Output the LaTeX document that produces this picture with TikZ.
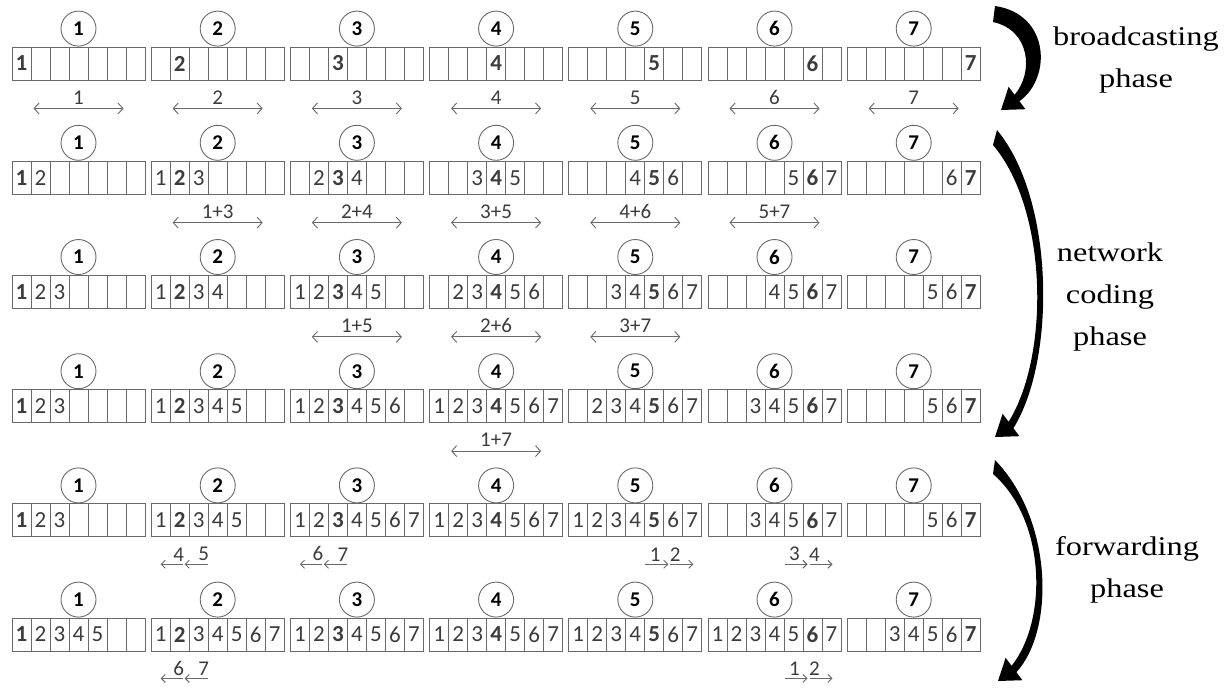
\documentclass[tikz,border=0pt]{standalone}
\usepackage{fontspec}
\setmainfont{Carlito}
\newfontfamily\phasefont[FakeStretch=1.2]{Liberation Serif}
\usetikzlibrary{arrows.meta,positioning}

\definecolor{boxgray}{RGB}{105,105,105}
\definecolor{txtgray}{RGB}{60,60,60}

\tikzset{
  cell/.style={draw=boxgray,line width=0.9pt,minimum width=19pt,minimum height=33pt,
    inner sep=0pt,text=txtgray,font=\fontsize{23}{23}\selectfont},
  nodecirc/.style={circle,draw=boxgray,line width=0.9pt,minimum size=35pt,inner sep=0pt,
    font=\fontsize{21}{21}\selectfont\bfseries},
  pair/.style={draw=boxgray,line width=0.9pt,
    {Straight Barb[length=5pt,width=11pt]}-{Straight Barb[length=5pt,width=11pt]}},
  fwd/.style={draw=boxgray,line width=0.9pt,-{Straight Barb[length=4pt,width=8pt]}},
  plab/.style={inner sep=0pt,text=txtgray,font=\fontsize{21}{21}\selectfont},
  phase/.style={align=center,font=\phasefont\fontsize{27}{42}\selectfont},
}

\begin{document}
\begin{tikzpicture}[x=1pt,y=-1pt]
\useasboundingbox (0,0) rectangle (1231,691);

% buffers of the seven nodes, one line per step
\foreach \r/\spec in {
  1/{1/1/1,2/2/2,3/3/3,4/4/4,5/5/5,6/6/6,7/7/7},
  2/{1/1/2,2/1/3,3/2/4,4/3/5,5/4/6,6/5/7,7/6/7},
  3/{1/1/3,2/1/4,3/1/5,4/2/6,5/3/7,6/4/7,7/5/7},
  4/{1/1/3,2/1/5,3/1/6,4/1/7,5/2/7,6/3/7,7/5/7},
  5/{1/1/3,2/1/5,3/1/7,4/1/7,5/1/7,6/3/7,7/5/7},
  6/{1/1/5,2/1/7,3/1/7,4/1/7,5/1/7,6/1/7,7/3/7}}
{
\pgfmathsetmacro\ytop{47+(\r-1)*114.2}
\foreach \g/\lo/\hi in \spec
{
\foreach \k in {1,...,7}
{
\ifnum\k<\lo\relax \def\txt{}%
\else\ifnum\k>\hi\relax \def\txt{}%
\else\ifnum\k=\g\relax \def\txt{\textbf{\k}}%
\else \def\txt{\k}\fi\fi\fi
\node[cell] (c\r-\g-\k) at ({12+(\g-1)*139.2+(\k-0.5)*19},{\ytop+16.5}) {\txt};
}
\node[nodecirc, above=0pt of c\r-\g-4] (n\r-\g) {\g};
}
}

% broadcasts and coded packets
\foreach \r/\g/\lab in {1/1/1,1/2/2,1/3/3,1/4/4,1/5/5,1/6/6,1/7/7,
  2/2/{1+3},2/3/{2+4},2/4/{3+5},2/5/{4+6},2/6/{5+7},
  3/3/{1+5},3/4/{2+6},3/5/{3+7},4/4/{1+7}}
{
\coordinate (pl\r-\g) at ([xshift=-45pt,yshift=-28pt]c\r-\g-4.south);
\coordinate (pr\r-\g) at ([xshift=45pt,yshift=-28pt]c\r-\g-4.south);
\coordinate (pm\r-\g) at ([yshift=-28pt]c\r-\g-4.south);
\draw[pair] (pl\r-\g) -- (pr\r-\g);
\node[plab, above=4pt of pm\r-\g] (pt\r-\g) {\lab};
}

% forwarding to the left
\foreach \r/\g/\a/\b in {5/2/4/5,5/3/6/7,6/2/6/7}
{
\coordinate (fi\r-\g) at ([xshift=-10pt,yshift=-27pt]c\r-\g-4.south);
\coordinate (fj\r-\g) at ([xshift=-33pt,yshift=-27pt]c\r-\g-4.south);
\coordinate (fk\r-\g) at ([xshift=-35pt,yshift=-27pt]c\r-\g-4.south);
\coordinate (fm\r-\g) at ([xshift=-57pt,yshift=-27pt]c\r-\g-4.south);
\draw[fwd] (fi\r-\g) -- (fj\r-\g);
\draw[fwd] (fk\r-\g) -- (fm\r-\g);
\coordinate (ga\r-\g) at ([xshift=-39pt,yshift=-27pt]c\r-\g-4.south);
\coordinate (gb\r-\g) at ([xshift=-14pt,yshift=-27pt]c\r-\g-4.south);
\node[plab, above=3pt of ga\r-\g] (la\r-\g) {\a};
\node[plab, above=3pt of gb\r-\g] (lb\r-\g) {\b};
}

% forwarding to the right
\foreach \r/\g/\a/\b in {5/5/1/2,5/6/3/4,6/6/1/2}
{
\coordinate (fi\r-\g) at ([xshift=10pt,yshift=-27pt]c\r-\g-4.south);
\coordinate (fj\r-\g) at ([xshift=33pt,yshift=-27pt]c\r-\g-4.south);
\coordinate (fk\r-\g) at ([xshift=35pt,yshift=-27pt]c\r-\g-4.south);
\coordinate (fm\r-\g) at ([xshift=58pt,yshift=-27pt]c\r-\g-4.south);
\draw[fwd] (fi\r-\g) -- (fj\r-\g);
\draw[fwd] (fk\r-\g) -- (fm\r-\g);
\coordinate (ga\r-\g) at ([xshift=20pt,yshift=-27pt]c\r-\g-4.south);
\coordinate (gb\r-\g) at ([xshift=40pt,yshift=-27pt]c\r-\g-4.south);
\node[plab, above=3pt of ga\r-\g] (la\r-\g) {\a};
\node[plab, above=3pt of gb\r-\g] (lb\r-\g) {\b};
}

% phases
\fill (995,6) .. controls (1050,14) and (1052,78) .. (1019.4,101.2) -- (1025.4,109.2)
  -- (1001,110) -- (1008.6,86.8) -- (1014.6,94.8)
  .. controls (1034,72) and (1030,30) .. (993,22) -- cycle;
\fill (997,130) .. controls (1055,200) and (1056,360) .. (1013.4,428.2) -- (1019.4,436.2)
  -- (995,437) -- (1002.6,413.8) -- (1008.6,421.8)
  .. controls (1050,355) and (1048,210) .. (993,145) -- cycle;
\fill (995,460) .. controls (1053,520) and (1055,630) .. (1016.4,672.2) -- (1022.4,680.2)
  -- (998,681) -- (1005.6,657.8) -- (1011.6,665.8)
  .. controls (1048,620) and (1046,520) .. (993,474) -- cycle;

\node[phase] (bc) at (1136,60) {broadcasting\\phase};
\node[phase] (nc) at (1110,297) {network\\coding\\phase};
\node[phase] (fw) at (1127,570) {forwarding\\phase};
\end{tikzpicture}
\end{document}
